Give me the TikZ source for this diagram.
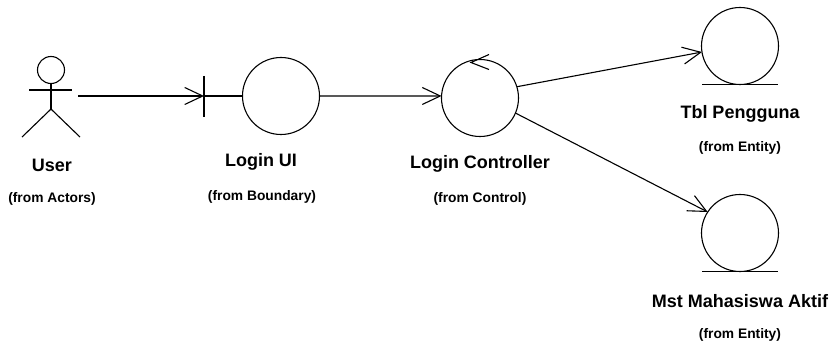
\documentclass[tikz,border=0pt]{standalone}
\usepackage{fontspec}
\setmainfont{Liberation Sans}
\usetikzlibrary{arrows.meta}
\tikzset{
  robust/.style={circle, draw, line width=1.1pt, inner sep=0pt, outer sep=0pt, minimum size=77pt},
  name label/.style={font=\fontsize{18}{20}\selectfont\bfseries, inner sep=0pt},
  from label/.style={font=\fontsize{13.8}{15}\selectfont\bfseries, inner sep=0pt},
  flow/.style={line width=1.1pt, -{Straight Barb[length=18pt,width=17pt,line width=1.1pt]}}
}
\begin{document}
\begin{tikzpicture}[x=1pt, y=-1pt, line width=1.1pt]
\useasboundingbox (0,0) rectangle (832,347); % keep the page size
% actor
\node [circle, draw, line width=1.1pt, inner sep=0pt, minimum size=27pt] (userhead) at (51,70) {};
\draw (29,90) -- (72,90);
\draw (userhead.south) -- ++(0,25) coordinate (userhip);
\draw (userhip) -- ++(-29,28);
\draw (userhip) -- ++(29,28);
\coordinate (userhand) at (78,96);
\node [name label] (userlbl) at (52,165) {User};
\node [from label] (userfrom) at (52,199) {(from Actors)};
% boundary
\node [robust] (loginui) at (281,96) {};
\coordinate (uibar) at (204,96);
\draw (uibar) ++(0,-20) -- ++(0,41);
\draw (uibar) -- (loginui.west);
\node [name label] (uilbl) at (261,162) {Login UI};
\node [from label] (uifrom) at (262,197) {(from Boundary)};
% control
\node [robust] (loginctrl) at (480,98) {};
\draw (loginctrl.north) ++(9,-5) coordinate (ctrltop)
      -- ++(-18,8) -- ++(18,7);
\node [name label] (ctrllbl) at (480,164) {Login Controller};
\node [from label] (ctrlfrom) at (480,199) {(from Control)};
% entities
\node [robust] (tblpengguna) at (740,46) {};
\draw ([xshift=-38pt]tblpengguna.south) -- ([xshift=38pt]tblpengguna.south);
\node [name label] (tbllbl) at (740,114) {Tbl Pengguna};
\node [from label] (tblfrom) at (740,148) {(from Entity)};
\node [robust] (mstaktif) at (740,233) {};
\draw ([xshift=-38pt]mstaktif.south) -- ([xshift=38pt]mstaktif.south);
\node [name label] (mstlbl) at (740,301) {Mst Mahasiswa Aktif};
\node [from label] (mstfrom) at (740,335) {(from Entity)};
% messages
\draw [flow] (userhand) -- (uibar);
\draw [flow] (loginui.east) -- (loginctrl.177);
\draw [flow] (loginctrl.17) -- (tblpengguna.189);
\draw [flow] (loginctrl.-23) -- (mstaktif.147);
\end{tikzpicture}
\end{document}
